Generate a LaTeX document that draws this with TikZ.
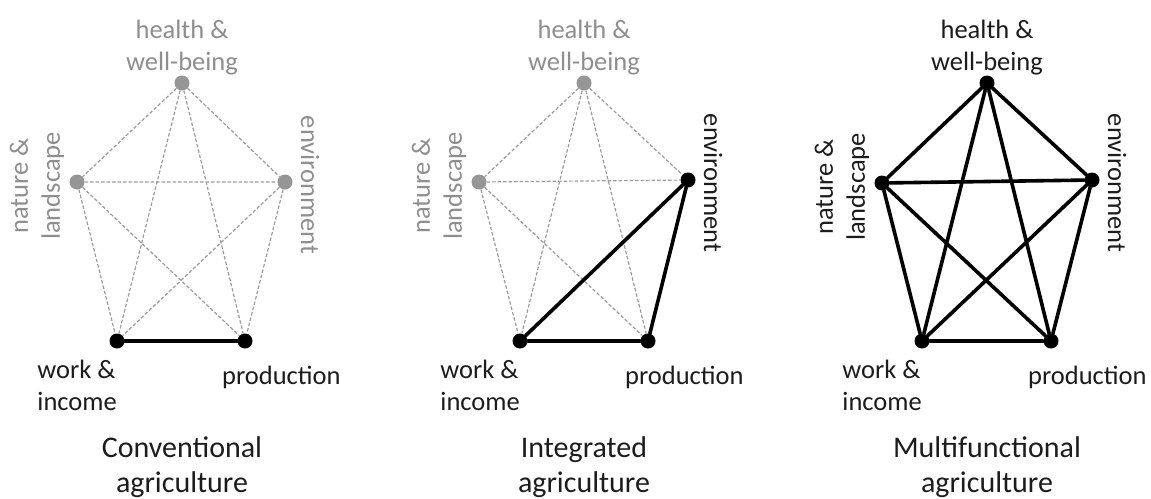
\documentclass[tikz,border=0pt]{standalone}
\usepackage{fontspec}
\setmainfont{Carlito}
\definecolor{palegray}{HTML}{969696}
\definecolor{paletext}{HTML}{8E8E8E}
\definecolor{paleline}{HTML}{9C9C9C}
\definecolor{inktext}{HTML}{1C1C1C}

\begin{document}
\begin{tikzpicture}[x=1pt, y=-1pt,
    dot/.style={circle, fill=#1, inner sep=0pt, minimum size=15pt},
    weak/.style={draw=paleline, line width=1.2pt, dash pattern=on 3.5pt off 2pt},
    strong/.style={draw=black, line width=3.6pt, line cap=round},
    lbl/.style={inner sep=0pt, text=#1, font=\fontsize{26.5}{32}\selectfont},
    title/.style={inner sep=0pt, align=center, text=inktext, font=\fontsize{30}{35}\selectfont}]
    \useasboundingbox (0,0) rectangle (1151,498);

    %% ** conventional
    \begin{scope}
    \path
    (182,83)node[dot=palegray](h1){}
    (77,182)node[dot=palegray](n1){}
    (285,182)node[dot=palegray](e1){}
    (117,341)node[dot=black](w1){}
    (245,341)node[dot=black](p1){}
    (h1.90)node[lbl=paletext, align=center, anchor=270]{health \&\\well-being}
    ([yshift=-4pt]n1.180)node[lbl=paletext, align=center, rotate=90, anchor=south, inner sep=5pt]{nature \&\\landscape}
    ([yshift=-3pt]e1.0)node[lbl=paletext, rotate=-90, anchor=south, inner sep=8pt]{environment}
    (w1.270)node[lbl=inktext, align=left, anchor=north east, yshift=-11pt]{work \&\\income}
    (p1.270)node[lbl=inktext, anchor=north west, xshift=-23pt, yshift=-17pt]{production}
    (182,436)node[title, anchor=north]{Conventional\\agriculture}
    ;
    \draw[weak] (h1)--(n1) (h1)--(e1) (h1)--(w1) (h1)--(p1) (n1)--(e1) (n1)--(w1) (n1)--(p1) (e1)--(w1) (e1)--(p1);
    \draw[strong] (w1)--(p1);
    \end{scope}

    %% ** integrated
    \begin{scope}[xshift=402pt]
    \path
    (182,83)node[dot=palegray](h2){}
    (77,182)node[dot=palegray](n2){}
    (286,180)node[dot=black](e2){}
    (118,341)node[dot=black](w2){}
    (246,341)node[dot=black](p2){}
    (h2.90)node[lbl=paletext, align=center, anchor=270]{health \&\\well-being}
    ([yshift=-4pt]n2.180)node[lbl=paletext, align=center, rotate=90, anchor=south, inner sep=5pt]{nature \&\\landscape}
    ([yshift=-3pt]e2.0)node[lbl=inktext, rotate=-90, anchor=south, inner sep=8pt]{environment}
    (w2.270)node[lbl=inktext, align=left, anchor=north east, yshift=-11pt]{work \&\\income}
    (p2.270)node[lbl=inktext, anchor=north west, xshift=-23pt, yshift=-17pt]{production}
    (182,436)node[title, anchor=north]{Integrated\\agriculture}
    ;
    \draw[weak] (h2)--(n2) (h2)--(e2) (h2)--(w2) (h2)--(p2) (n2)--(e2) (n2)--(w2) (n2)--(p2);
    \draw[strong] (w2)--(p2) (w2)--(e2) (e2)--(p2);
    \end{scope}

    %% ** multifunctional
    \begin{scope}[xshift=805pt]
    \path
    (182,83)node[dot=black](h3){}
    (77,183)node[dot=black](n3){}
    (287,180)node[dot=black](e3){}
    (117,341)node[dot=black](w3){}
    (246,341)node[dot=black](p3){}
    (h3.90)node[lbl=inktext, align=center, anchor=270]{health \&\\well-being}
    ([yshift=-4pt]n3.180)node[lbl=inktext, align=center, rotate=90, anchor=south, inner sep=5pt]{nature \&\\landscape}
    ([yshift=-3pt]e3.0)node[lbl=inktext, rotate=-90, anchor=south, inner sep=8pt]{environment}
    (w3.270)node[lbl=inktext, align=left, anchor=north east, yshift=-11pt]{work \&\\income}
    (p3.270)node[lbl=inktext, anchor=north west, xshift=-23pt, yshift=-17pt]{production}
    (182,436)node[title, anchor=north]{Multifunctional\\agriculture}
    ;
    \draw[strong] (h3)--(n3) (h3)--(e3) (h3)--(w3) (h3)--(p3) (n3)--(e3) (n3)--(w3) (n3)--(p3) (e3)--(w3) (e3)--(p3) (w3)--(p3);
    \end{scope}
\end{tikzpicture}
\end{document}
